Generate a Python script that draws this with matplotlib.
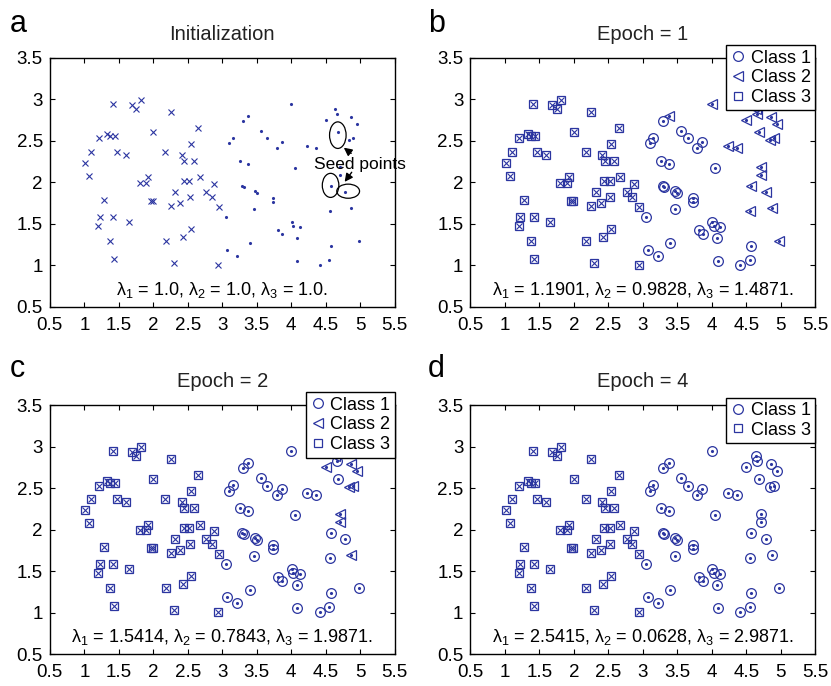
import matplotlib
matplotlib.use('Agg')
import matplotlib.pyplot as plt
from matplotlib.patches import Ellipse
from matplotlib.lines import Line2D

plt.rcParams['font.family'] = ['Liberation Sans', 'DejaVu Sans']
plt.rcParams['mathtext.fontset'] = 'custom'
plt.rcParams['mathtext.rm'] = 'Liberation Sans'
plt.rcParams['mathtext.it'] = 'Liberation Sans'
plt.rcParams['mathtext.default'] = 'regular'

# left group of points (drawn as 'x')
x_cross = [1.41, 1.69, 1.75, 1.82, 2.25, 2.65, 2.00, 1.21, 1.33, 1.375, 1.44, 2.54, 1.10,
           1.47, 1.60, 2.17, 2.41, 2.45, 2.59, 1.01, 1.07, 1.80, 1.90, 1.93, 2.44, 2.52,
           2.67, 2.875, 1.28, 1.96, 1.99, 2.32, 2.25, 2.39, 2.53, 2.77, 2.85, 2.95, 1.22,
           1.42, 1.20, 1.65, 1.375, 1.43, 2.18, 2.43, 2.54, 2.30, 2.94]
y_cross = [2.94, 2.93, 2.89, 2.99, 2.85, 2.66, 2.61, 2.53, 2.59, 2.56, 2.56, 2.46, 2.37,
           2.37, 2.33, 2.37, 2.33, 2.26, 2.26, 2.24, 2.08, 1.99, 1.99, 2.06, 2.02, 2.02,
           2.06, 1.98, 1.79, 1.78, 1.78, 1.89, 1.72, 1.75, 1.83, 1.88, 1.83, 1.71, 1.58,
           1.58, 1.48, 1.52, 1.30, 1.08, 1.29, 1.34, 1.44, 1.03, 1.01]

# right group of points (drawn as '.')
x_dot = [4.00, 4.64, 4.66, 4.86, 4.95, 4.50, 4.68, 4.84, 4.90, 4.23, 4.36, 4.71, 4.71,
         4.57, 4.78, 3.375, 3.30, 3.56, 3.65, 3.86, 3.79, 3.15, 3.10, 3.26, 3.375, 4.05,
         3.29, 3.31, 3.47, 3.50, 3.73, 3.73, 3.05, 3.46, 4.56, 4.87, 4.01, 4.03, 4.12,
         3.81, 3.87, 4.08, 3.40, 3.07, 3.22, 4.57, 4.98, 4.09, 4.41, 4.55]
y_dot = [2.95, 2.89, 2.83, 2.79, 2.71, 2.75, 2.61, 2.51, 2.53, 2.44, 2.42, 2.19, 2.09,
         1.96, 1.89, 2.80, 2.74, 2.62, 2.53, 2.49, 2.42, 2.54, 2.47, 2.26, 2.22, 2.17,
         1.96, 1.95, 1.90, 1.87, 1.81, 1.77, 1.58, 1.68, 1.66, 1.69, 1.52, 1.48, 1.46,
         1.43, 1.38, 1.33, 1.27, 1.19, 1.12, 1.23, 1.30, 1.06, 1.01, 1.07]

# class of each right-group point at epoch 1 and epoch 2 (left group is class 3)
class_b = [2, 2, 2, 2, 2, 2, 2, 2, 2, 2, 2, 2, 2, 2, 2, 2, 1, 1, 1, 1, 1, 1, 1, 1, 1, 1,
           1, 1, 1, 1, 1, 1, 1, 1, 2, 2, 1, 1, 1, 1, 1, 1, 1, 1, 1, 1, 2, 1, 1, 1]
class_c = [1, 2, 1, 2, 2, 2, 1, 2, 2, 1, 1, 2, 2, 1, 1, 1, 1, 1, 1, 1, 1, 1, 1, 1, 1, 1,
           1, 1, 1, 1, 1, 1, 1, 1, 1, 2, 1, 1, 1, 1, 1, 1, 1, 1, 1, 1, 1, 1, 1, 1]
class_d = [1] * len(x_dot)

titles = ['Initialization', 'Epoch = 1', 'Epoch = 2', 'Epoch = 4']
letters = ['a', 'b', 'c', 'd']
lambdas = [('1.0', '1.0', '1.0'),
           ('1.1901', '0.9828', '1.4871'),
           ('1.5414', '0.7843', '1.9871'),
           ('2.5415', '0.0628', '2.9871')]

blue = '#2b35a0'
fig = plt.figure(figsize=(8.31, 6.86), dpi=100)

pos = [[0.060, 0.5525, 0.415, 0.363],
       [0.566, 0.5525, 0.415, 0.363],
       [0.060, 0.0466, 0.415, 0.363],
       [0.566, 0.0466, 0.415, 0.363]]
letter_pos = [(0.012, 0.953), (0.515, 0.953), (0.012, 0.450), (0.515, 0.450)]
classes = [None, class_b, class_c, class_d]

for i in range(4):
    ax = fig.add_axes(pos[i])
    ax.plot(x_cross, y_cross, 'x', color=blue, ms=4.5, mew=0.8, ls='none')
    ax.plot(x_dot, y_dot, '.', color=blue, ms=2.5, ls='none')
    cl = classes[i]
    if cl is not None:
        x1 = [x for x, c in zip(x_dot, cl) if c == 1]
        y1 = [y for y, c in zip(y_dot, cl) if c == 1]
        x2 = [x for x, c in zip(x_dot, cl) if c == 2]
        y2 = [y for y, c in zip(y_dot, cl) if c == 2]
        ax.plot(x1, y1, 'o', mfc='none', mec=blue, ms=7, mew=0.9, ls='none')
        if x2:
            ax.plot(x2, y2, '<', mfc='none', mec=blue, ms=7, mew=0.9, ls='none')
        ax.plot(x_cross, y_cross, 's', mfc='none', mec=blue, ms=6, mew=0.9, ls='none')
        handles = [Line2D([], [], marker='o', mfc='none', mec=blue, ms=7, mew=0.9, ls='none')]
        labels = ['Class 1']
        if i < 3:
            handles.append(Line2D([], [], marker='<', mfc='none', mec=blue, ms=7, mew=0.9, ls='none'))
            labels.append('Class 2')
        handles.append(Line2D([], [], marker='s', mfc='none', mec=blue, ms=6, mew=0.9, ls='none'))
        labels.append('Class 3')
        top = 1.052 if i < 3 else 1.03
        leg = ax.legend(handles, labels, loc='upper right', bbox_to_anchor=(1.0, top),
                        fontsize=13, frameon=True, fancybox=False, framealpha=1,
                        edgecolor='black', borderaxespad=0, handlelength=0.8,
                        handletextpad=0.3, borderpad=0.25, labelspacing=0.15)
        leg.get_frame().set_linewidth(1.0)
    else:
        ax.add_patch(Ellipse((4.675, 2.57), 0.24, 0.32, fill=False, color='black', lw=0.9))
        ax.add_patch(Ellipse((4.57, 1.965), 0.24, 0.29, fill=False, color='black', lw=0.9))
        ax.add_patch(Ellipse((4.825, 1.895), 0.33, 0.17, fill=False, color='black', lw=0.9))
        ax.text(4.33, 2.22, 'Seed points', fontsize=12.5, va='center', ha='left', zorder=5)
        ax.annotate('', xy=(4.73, 2.44), xytext=(4.90, 2.33),
                    arrowprops=dict(arrowstyle='-|>', color='black', lw=1, mutation_scale=12))
        ax.annotate('', xy=(4.75, 1.98), xytext=(4.90, 2.15),
                    arrowprops=dict(arrowstyle='-|>', color='black', lw=1, mutation_scale=12))

    l1, l2, l3 = lambdas[i]
    ax.text(3.0, 0.70, r'$\lambda_1$ = ' + l1 + r', $\lambda_2$ = ' + l2 + r', $\lambda_3$ = ' + l3 + '.',
            ha='center', va='center', fontsize=13)

    ax.set_xlim(0.5, 5.5)
    ax.set_ylim(0.5, 3.5)
    ax.set_xticks([0.5, 1, 1.5, 2, 2.5, 3, 3.5, 4, 4.5, 5, 5.5])
    ax.set_xticklabels(['0.5', '1', '1.5', '2', '2.5', '3', '3.5', '4', '4.5', '5', '5.5'])
    ax.set_yticks([0.5, 1, 1.5, 2, 2.5, 3, 3.5])
    ax.set_yticklabels(['0.5', '1', '1.5', '2', '2.5', '3', '3.5'])
    ax.tick_params(direction='in', top=True, right=True, length=3.5, width=0.8,
                   labelsize=13.5, pad=5)
    ax.tick_params(axis='x', pad=7)
    for s in ax.spines.values():
        s.set_linewidth(1.0)
    ax.set_title(titles[i], fontsize=14.5, pad=13, color='#222222')
    fig.text(letter_pos[i][0], letter_pos[i][1], letters[i], fontsize=22, va='baseline')

fig.savefig('out.png', dpi=100)
